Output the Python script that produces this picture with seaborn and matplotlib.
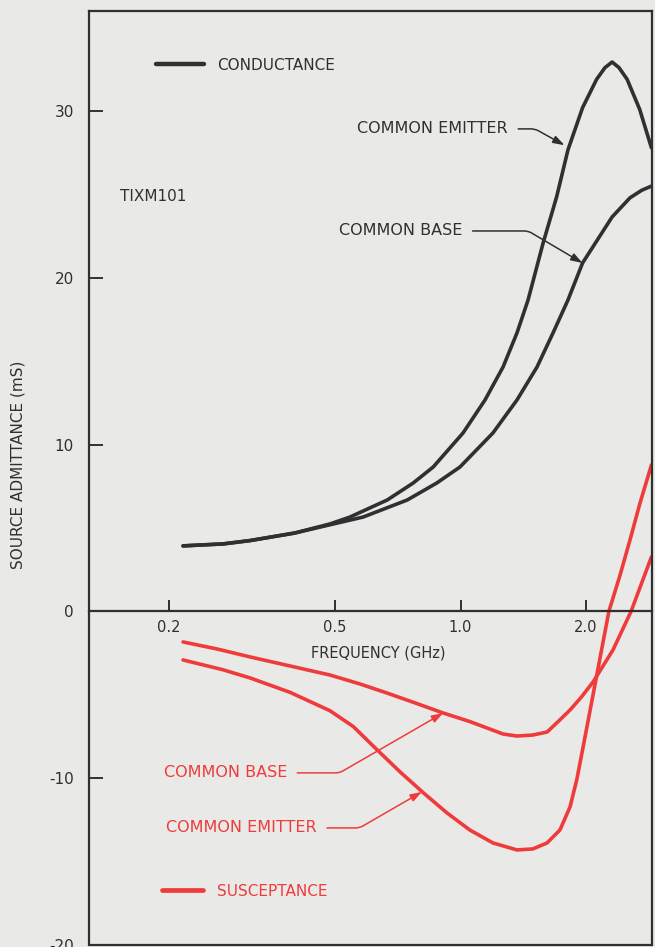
import matplotlib
matplotlib.use('Agg')
import matplotlib.pyplot as plt
import seaborn as sns
from matplotlib.lines import Line2D
from matplotlib.ticker import NullLocator

sns.set_style('ticks')
plt.rcParams['font.family'] = ['DejaVu Sans']
plt.rcParams['axes.unicode_minus'] = False

# conductance (mS) vs frequency (GHz)
g_ce_freq = [0.216, 0.27, 0.313, 0.40, 0.487, 0.543, 0.667, 0.770, 0.860, 1.014,
             1.145, 1.265, 1.366, 1.452, 1.578, 1.70, 1.81, 1.962, 2.12, 2.22,
             2.31, 2.40, 2.51, 2.69, 2.87]
g_ce_val = [3.93, 4.05, 4.25, 4.7, 5.25, 5.66, 6.68, 7.70, 8.66, 10.7,
            12.68, 14.66, 16.70, 18.67, 22.09, 24.85, 27.67, 30.2, 31.9, 32.6,
            32.94, 32.6, 31.9, 30.1, 27.8]

g_cb_freq = [0.216, 0.27, 0.313, 0.40, 0.487, 0.584, 0.745, 0.877, 0.997, 1.196,
             1.366, 1.526, 1.667, 1.81, 1.962, 2.12, 2.31, 2.55, 2.72, 2.87]
g_cb_val = [3.93, 4.05, 4.25, 4.7, 5.2, 5.66, 6.68, 7.70, 8.66, 10.7,
            12.68, 14.66, 16.70, 18.67, 20.89, 22.2, 23.65, 24.8, 25.25, 25.5]

# susceptance (mS) vs frequency (GHz)
b_cb_freq = [0.216, 0.2605, 0.313, 0.390, 0.486, 0.574, 0.666, 0.779, 0.909, 1.052,
             1.158, 1.265, 1.366, 1.491, 1.613, 1.71, 1.831, 1.95, 2.079, 2.321,
             2.565, 2.87]
b_cb_val = [-1.83, -2.25, -2.73, -3.27, -3.81, -4.35, -4.89, -5.49, -6.09, -6.6,
            -6.99, -7.35, -7.47, -7.41, -7.23, -6.63, -5.91, -5.13, -4.23, -2.31,
            0.0, 3.27]

b_ce_freq = [0.216, 0.2695, 0.313, 0.390, 0.486, 0.553, 0.631, 0.716, 0.815, 0.928,
             1.052, 1.196, 1.366, 1.491, 1.613, 1.732, 1.831, 1.90, 1.962, 2.079,
             2.269, 2.415, 2.55, 2.695, 2.87]
b_ce_val = [-2.91, -3.5, -3.99, -4.85, -5.95, -6.9, -8.30, -9.62, -10.88, -12.08,
            -13.10, -13.88, -14.30, -14.24, -13.88, -13.1, -11.72, -10.1, -8.30, -5.0,
            0.0, 2.2, 4.29, 6.5, 8.78]

freq_ticks = [0.2, 0.5, 1.0, 2.0]
freq_labels = ['0.2', '0.5', '1.0', '2.0']
adm_ticks = [-20, -10, 0, 10, 20, 30]

paper = '#e9e9e8'
ink = '#303030'
red = '#ef3b3b'

fig = plt.figure(figsize=(6.55, 9.47), dpi=100)
fig.patch.set_facecolor(paper)
ax = fig.add_axes([0.1359, 0.0021, 0.8595, 0.9863])
ax.set_facecolor(paper)

sns.lineplot(x=g_ce_freq, y=g_ce_val, ax=ax, color=ink, lw=2.6)
sns.lineplot(x=g_cb_freq, y=g_cb_val, ax=ax, color=ink, lw=2.6)
sns.lineplot(x=b_cb_freq, y=b_cb_val, ax=ax, color=red, lw=2.6)
sns.lineplot(x=b_ce_freq, y=b_ce_val, ax=ax, color=red, lw=2.6)

ax.set_xscale('log')
ax.set_xlim(0.1285, 2.879)
ax.set_ylim(-20, 36)
ax.set_xticks(freq_ticks)
ax.set_xticklabels(freq_labels)
ax.xaxis.set_minor_locator(NullLocator())
ax.set_yticks(adm_ticks)

for s in ax.spines.values():
    s.set_color(ink)
    s.set_linewidth(1.6)
ax.spines['bottom'].set_position(('data', 0))
ax.plot([0, 1], [0, 0], transform=ax.transAxes, color=ink, lw=1.6, clip_on=False)

ax.tick_params(axis='x', direction='in', length=8, width=1.4, pad=6,
               labelsize=10.5, colors=ink)
ax.tick_params(axis='y', direction='in', length=10, width=1.4, pad=11,
               labelsize=11, colors=ink)

ax.set_xlabel('FREQUENCY (GHz)', fontsize=10.5, color=ink)
ax.xaxis.set_label_coords(0.513, 0.321)
ax.set_ylabel('SOURCE ADMITTANCE (mS)', fontsize=11, color=ink)
ax.yaxis.set_label_coords(-0.126, 0.514)
ax.yaxis.label.set_verticalalignment('center')

ax.text(0.1525, 24.85, 'TIXM101', fontsize=11, color=ink, ha='left', va='center')


def leader(label, tip, textpos, angle, color):
    ax.annotate(label, xy=tip, xytext=textpos, ha='right', va='center',
                fontsize=11.5, color=color,
                arrowprops=dict(arrowstyle='-|>,head_length=0.6,head_width=0.2',
                                color=color, lw=1.1, shrinkA=5, shrinkB=0,
                                connectionstyle='angle,angleA=0,angleB=%g,rad=4' % angle))


leader('COMMON EMITTER', (1.776, 27.95), (1.30, 28.93), -29, ink)
leader('COMMON BASE', (1.962, 20.89), (1.010, 22.81), -30.5, ink)
leader('COMMON BASE', (0.909, -6.09), (0.3836, -9.68), 30, red)
leader('COMMON EMITTER', (0.808, -10.82), (0.452, -12.98), 30, red)

leg1 = ax.legend([Line2D([], [], color=ink, lw=3.2)], ['CONDUCTANCE'],
                 loc='center left', bbox_to_anchor=(0.119, 0.942), frameon=False,
                 handlelength=3.14, handletextpad=0.85, borderpad=0, borderaxespad=0,
                 fontsize=11, labelcolor=ink)
ax.add_artist(leg1)
ax.legend([Line2D([], [], color=red, lw=3.4)], ['SUSCEPTANCE'],
          loc='center left', bbox_to_anchor=(0.130, 0.0578), frameon=False,
          handlelength=2.68, handletextpad=0.92, borderpad=0, borderaxespad=0,
          fontsize=11, labelcolor=red)

fig.savefig('out.png', dpi=100, facecolor=paper)
